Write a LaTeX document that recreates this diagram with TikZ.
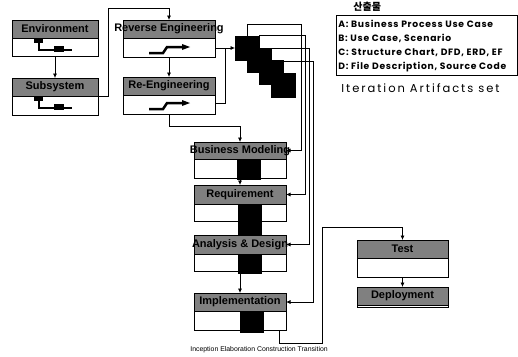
\documentclass[tikz,border=0pt]{standalone}
\usepackage{fontspec}
\setmainfont{Liberation Sans}
\newfontfamily\cjk{Noto Sans CJK KR}
\newfontfamily\legendfont[LetterSpace=8]{Poppins}
\newfontfamily\iterfont[LetterSpace=17]{Poppins}
\usetikzlibrary{arrows.meta,calc}
\newcommand\mkbox[7]{%
  \node[boxst,minimum width=#4pt,minimum height=#5pt] (#1) at (#2,#3) {};
  \node[headst,minimum width=#4pt,minimum height=#6pt] (#1h) at (#1.north west) {};
  \node[hlabel] (#1t) at (#1h.center) {#7};}
\begin{document}
\begin{tikzpicture}[x=1pt,y=-1pt,
  line width=0.7pt,
  arr/.style={-{Latex[length=4.5pt,width=4pt]}},
  boxst/.style={draw,fill=white,anchor=north west,inner sep=0,outer sep=0},
  headst/.style={draw,fill=black!50,anchor=north west,inner sep=0,outer sep=0},
  hlabel/.style={font=\bfseries\fontsize{11}{13}\selectfont,inner sep=0},
  blk/.style={fill=black,draw=black,anchor=north west,inner sep=0,minimum width=24pt,minimum height=24pt},
  barst/.style={fill=black,anchor=north west,inner sep=0,minimum width=24pt},
  lgtext/.style={font=\legendfont\bfseries\fontsize{9.2}{11}\selectfont,anchor=west,inner sep=0},
  stepicon/.pic={
    \fill (0,-4) rectangle (9,1);
    \draw[line width=2.5pt] (5,0) -- (5,8) -- (38,8);
    \fill (20,4) rectangle (30,10);
  },
  stepiconb/.pic={
    \draw[line width=2.5pt] (0,8) -- (14,8) -- (18,2) -- (34,2);
    \fill (33,-1) -- (41,2) -- (33,5) -- cycle;
  }
]
\useasboundingbox (0,0) rectangle (518,356);

% left / top boxes
\mkbox{b1}{12}{20}{86}{36}{18}{Environment}
\mkbox{b2}{12}{78}{86}{37}{18}{Subsystem}
\mkbox{b3}{123}{20}{92}{37}{18}{Reverse Engineering}
\mkbox{b4}{123}{77}{92}{37}{18}{Re-Engineering}
\pic at (34,42) {stepicon};
\pic at (34,100) {stepicon};
\pic at (149,45) {stepiconb};
\pic at (149,101) {stepiconb};

% centre column
\mkbox{bm}{194}{142}{92}{36}{17}{Business Modeling}
\mkbox{rq}{194}{185}{92}{36}{19}{Requirement}
\mkbox{ad}{194}{235}{92}{36}{19}{Analysis \& Design}
\mkbox{im}{194}{293}{92}{37}{18}{Implementation}

% right column
\mkbox{te}{357}{240}{91}{37}{18}{Test}
\mkbox{de}{357}{287}{91}{20}{18}{Deployment}

% bars
\node[barst,minimum height=21pt] (x1) at (237,159) {};
\node[barst,minimum height=31pt] (x2) at (238,204) {};
\node[barst,minimum height=20pt] (x3) at (238,254) {};
\node[barst,minimum height=22pt] (x4) at (240,311) {};

% staircase of iteration blocks
\node[blk] (s1) at (235,36) {};
\node[blk] (s2) at (247,48) {};
\node[blk] (s3) at (259,60) {};
\node[blk] (s4) at (271,73) {};

% connectors, left part
\draw[arr] (b1.south) -- (b2.north);
\draw[arr] (b2h.south east) -- ++(10,0) |- ([yshift=12pt]b3.north) -- (b3.north);
\draw[arr] (b3.south) -- (b4.north);
\coordinate (j0) at ([yshift=9pt]b3.south east);
\coordinate (j1) at (225,48);
\draw[arr] (j0) -- (j0 -| s1.west);
\draw ([yshift=11pt]b4.south east) -| (j1);
\draw[arr] (b4.south) |- ([yshift=16pt]bm.north) -- (bm.north);

% centre arrows
\draw[arr] (bm.south) -- (rq.north);
\draw[arr] (rq.south) -- (ad.north);
\draw[arr] (ad.south) -- (im.north);

% block feeds
\coordinate (c1) at (301,24);
\coordinate (c2) at (305,35);
\coordinate (c3) at (309,48);
\coordinate (c4) at (313,61);
\draw[arr] (s1.north) |- (c1) |- (bmh.east);
\draw[arr] (s2.north) |- (c2) |- (rqh.east);
\draw[arr] (s3.north) |- (c3) |- (adh.east);
\draw[arr] (s4.north) |- (c4) |- (imh.east);

% to test
\coordinate (c5) at (322,343);
\draw[arr] ([xshift=-7pt]im.south east) |- (c5) |- ([yshift=13pt]te.north) -- (te.north);
\draw[arr] (te.south) -- (de.north);

% legend
\node[font=\cjk\bfseries\fontsize{10}{11}\selectfont,anchor=west,inner sep=0] (lgt) at (353,7) {산출물};
\node[draw,anchor=north west,minimum width=181pt,minimum height=60pt,inner sep=0] (lgb) at (336,15) {};
\node[lgtext] (la) at (338,24) {A: Business Process Use Case};
\node[lgtext] (lb) at (338,38) {B: Use Case, Scenario};
\node[lgtext] (lc) at (338,53) {C: Structure Chart, DFD, ERD, EF};
\node[lgtext] (ld) at (338,67) {D: File Description, Source Code};
\node[font=\iterfont\fontsize{11.5}{13}\selectfont,anchor=west,inner sep=0] (lit) at (341,88) {Iteration Artifacts set};

% phases
\node[font=\fontsize{6.9}{7.5}\selectfont,anchor=west,inner sep=0] (ph) at (190,350) {Inception Elaboration Construction Transition};
\end{tikzpicture}
\end{document}
